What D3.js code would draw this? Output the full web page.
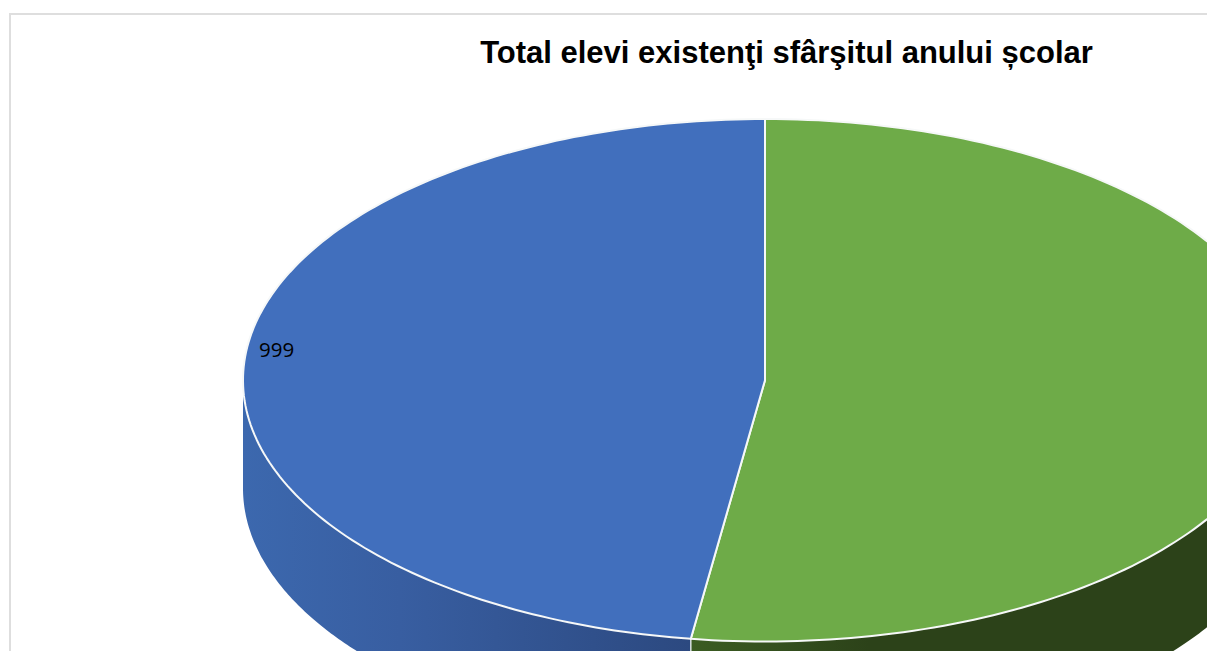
<!DOCTYPE html>
<html>
<head>
<meta charset="utf-8">
<script src="https://cdnjs.cloudflare.com/ajax/libs/d3/7.8.5/d3.min.js"></script>
<style>
    html, body {margin: 0; padding: 0; background: #fff; overflow: hidden;}
    svg {display: block;}
</style>
</head>
<body>
<div id="chart"></div>
<script>
var titleText = "Total elevi existenţi sfârşitul anului școlar";
var categories = ["Promovați", "Nepromovați"]; // not readable in the picture, legend is cropped
var seriesValues = [1094, 999];
var sliceLabels = ["", "999"];
var topColors = ["#6eab48", "#416fbd"];
var wallStops = [
    [["#3b5c22", 0], ["#2c4219", 0.3], ["#2c4219", 1]],
    [["#3c68ae", 0], ["#385ea1", 0.35], ["#2c4980", 1]]
];

var width = 1207,
    height = 651,
    depth = 108;

var svg = d3.select("#chart").append("svg")
            .attr("width", width)
            .attr("height", height);

// chart frame, runs off the right and bottom of the crop
svg.append("rect")
   .attr("x", 10)
   .attr("y", 14)
   .attr("width", width + 20)
   .attr("height", height + 20)
   .style("fill", "#fff")
   .style("stroke", "#dedede")
   .style("stroke-width", 2);

svg.append("text")
   .attr("x", 786.5)
   .attr("y", 63)
   .attr("text-anchor", "middle")
   .style("font-family", "'Liberation Sans', Arial, sans-serif")
   .style("font-weight", "bold")
   .style("font-size", "31px")
   .style("fill", "#000")
   .text(titleText);

var xScale = d3.scaleLinear().domain([-1, 1]).range([243, 1287]);
var yScale = d3.scaleLinear().domain([-1, 1]).range([119, 641.5]);

var pie = d3.pie().sort(null)(seriesValues);

function rimPoint(angle, dy) {
    return [xScale(Math.sin(angle)), yScale(-Math.cos(angle)) + dy];
}

function rim(a0, a1, dy) {
    var n = 160, pts = [];
    for (var i = 0; i <= n; i += 1) {
        pts.push(rimPoint(a0 + (a1 - a0) * i / n, dy));
    }
    return pts;
}

var line = d3.line();
var defs = svg.append("defs");

// front wall, only the part of each slice facing us (PI/2 .. 3PI/2)
pie.forEach(function(d, i) {
    var a0 = Math.max(d.startAngle, Math.PI / 2),
        a1 = Math.min(d.endAngle, Math.PI * 1.5);
    var top = rim(a0, a1, 0),
        bottom = rim(a0, a1, depth).reverse();
    var grad = defs.append("linearGradient")
                   .attr("id", "wall" + i)
                   .attr("gradientUnits", "userSpaceOnUse")
                   .attr("x1", i === 0 ? 690 : 243)
                   .attr("x2", i === 0 ? 1287 : 690)
                   .attr("y1", 0)
                   .attr("y2", 0);
    wallStops[i].forEach(function(s) {
        grad.append("stop").attr("offset", s[1]).attr("stop-color", s[0]);
    });
    svg.append("path")
       .attr("d", line(top.concat(bottom)) + "Z")
       .style("fill", "url(#wall" + i + ")");
});

// seam between the two walls
var seam = rimPoint(pie[0].endAngle, 0);
svg.append("path")
   .attr("d", line([seam, [seam[0], seam[1] + depth]]))
   .style("stroke", "#d9dfe0")
   .style("stroke-width", 1.5);

// top faces
pie.forEach(function(d, i) {
    var pts = [[xScale(0), yScale(0)]].concat(rim(d.startAngle, d.endAngle, 0));
    svg.append("path")
       .attr("d", line(pts) + "Z")
       .style("fill", topColors[i])
       .style("stroke", "#f6f8f8")
       .style("stroke-width", 2)
       .style("stroke-linejoin", "round");
});

svg.append("text")
   .attr("x", 259)
   .attr("y", 357)
   .style("font-family", "'Open Sans', sans-serif")
   .style("font-size", "20.5px")
   .style("fill", "#000")
   .text(sliceLabels[1]);
</script>
</body>
</html>
